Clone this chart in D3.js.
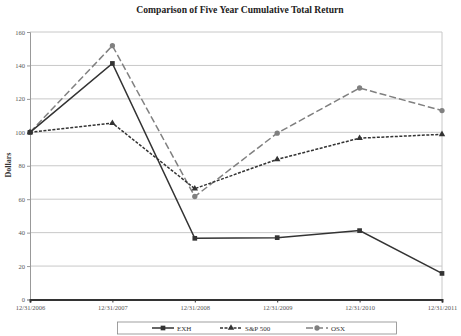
<!DOCTYPE html>
<html><head><meta charset="utf-8">
<script src="https://cdn.jsdelivr.net/npm/d3@7"></script>
<style>body{margin:0;background:#fff}svg{display:block}text{font-family:"Liberation Serif","DejaVu Serif",serif}</style>
</head><body><svg id="c" width="461" height="336"></svg>
<script>
const categories = ["12/31/2006","12/31/2007","12/31/2008","12/31/2009","12/31/2010","12/31/2011"];
const exh = [100, 141.2, 36.6, 37.0, 41.2, 15.6];
const sp500 = [100, 105.5, 66.3, 83.8, 96.5, 98.8];
const osx = [100, 151.8, 61.6, 99.5, 126.5, 113.0];
const yTicks = [0,20,40,60,80,100,120,140,160];
const seriesNames = ["EXH","S&P 500","OSX"];

const svg = d3.select("#c");
const x = d3.scalePoint().domain(categories).range([30, 442]);
const y = d3.scaleLinear().domain([0,160]).range([299.5, 32]);

svg.append("text").attr("x", 240).attr("y", 13).attr("text-anchor","middle")
  .attr("font-size", 9.6).attr("font-weight","bold").attr("fill","#222")
  .text("Comparison of Five Year Cumulative Total Return");

// gridlines
svg.append("g").selectAll("line").data(yTicks.filter(d=>d>0)).join("line")
  .attr("x1", 30).attr("x2", 442).attr("y1", d=>y(d)).attr("y2", d=>y(d))
  .attr("stroke","#c8c8c8").attr("stroke-width",1);
// right border
svg.append("line").attr("x1",442).attr("x2",442).attr("y1",y(160)).attr("y2",y(0)).attr("stroke","#c8c8c8");

// y axis
const ya = svg.append("g").attr("transform","translate(30,0)")
  .call(d3.axisLeft(y).tickValues(yTicks).tickSize(3).tickPadding(2));
ya.select(".domain").attr("stroke","#999");
ya.selectAll(".tick line").attr("stroke","#999");
ya.selectAll("text").attr("font-size",6.5).attr("fill","#555").attr("font-family","Liberation Serif, serif");

// x axis
const xa = svg.append("g").attr("transform",`translate(0,${y(0)})`)
  .call(d3.axisBottom(x).tickSize(3).tickPadding(3));
xa.select(".domain").attr("stroke","#333").attr("stroke-width",2);
xa.selectAll(".tick line").attr("stroke","#333");
xa.selectAll("text").attr("font-size",6.5).attr("fill","#555").attr("font-family","Liberation Serif, serif");

svg.append("text").attr("transform","translate(11,165) rotate(-90)").attr("text-anchor","middle")
  .attr("font-size",8).attr("font-weight","bold").attr("fill","#333").text("Dollars");

const line = d3.line().x((d,i)=>x(categories[i])).y(d=>y(d));
const styles = [
  {data: exh, color:"#333", dash:null, w:1.5, marker:"square"},
  {data: sp500, color:"#333", dash:"3,1.5", w:1.5, marker:"triangle"},
  {data: osx, color:"#808080", dash:"7,3", w:1.5, marker:"circle"}
];
const symType = {square:d3.symbolSquare, triangle:d3.symbolTriangle, circle:d3.symbolCircle};
[2,1,0].forEach(k=>{
  const s = styles[k];
  svg.append("path").datum(s.data).attr("d", line).attr("fill","none")
    .attr("stroke", s.color).attr("stroke-width", s.w).attr("stroke-dasharray", s.dash);
  svg.append("g").selectAll("path").data(s.data).join("path")
    .attr("transform",(d,i)=>`translate(${x(categories[i])},${y(d)})`)
    .attr("d", d3.symbol().type(symType[s.marker]).size(s.marker==="triangle"?18:22))
    .attr("fill", s.color);
});

// legend
svg.append("rect").attr("x",117.5).attr("y",322).attr("width",279).attr("height",12)
  .attr("fill","#fff").attr("stroke","#888").attr("stroke-width",0.8);
const legX = [152, 220, 306];
seriesNames.forEach((n,k)=>{
  const s = styles[k];
  const g = svg.append("g").attr("transform",`translate(${legX[k]},328)`);
  g.append("line").attr("x1",0).attr("x2",22).attr("stroke",s.color).attr("stroke-width",1.5)
    .attr("stroke-dasharray", s.dash);
  g.append("path").attr("transform","translate(11,0)")
    .attr("d", d3.symbol().type(symType[s.marker]).size(s.marker==="triangle"?18:22)).attr("fill",s.color);
  g.append("text").attr("x",25).attr("y",2.5).attr("font-size",7).attr("fill","#333").text(n);
});
</script></body></html>
